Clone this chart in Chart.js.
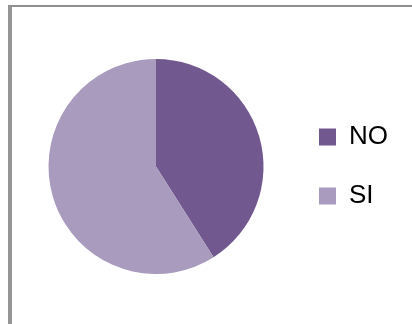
<!DOCTYPE html>
<html>
<head>
<meta charset="utf-8">
<script src="https://cdn.jsdelivr.net/npm/chart.js@4/dist/chart.umd.min.js"></script>
<style>
  html, body { margin: 0; padding: 0; background: #fff; }
  #frame {
    position: absolute; left: 8px; top: 5px; width: 404px; height: 319px;
    border-top: 2px solid #8f8f8f; border-left: 4px solid #959595;
    box-sizing: border-box;
  }
  #wrap { position: absolute; left: 0; top: 0; width: 412px; height: 324px; }
</style>
</head>
<body>
<div id="frame"></div>
<div id="wrap"><canvas id="pie-chart"></canvas></div>
<script>
// respuestas
const labels = ["NO", "SI"];
const values = [41, 59];
const colors = ["#71588F", "#A99BBD"];

const canvas = document.querySelector("#pie-chart");

const chartSettings = {
  type: "pie",
  data: {
    labels: labels,
    datasets: [
      {
        data: values,
        backgroundColor: colors,
        borderWidth: 0,
      },
    ],
  },
  options: {
    responsive: true,
    maintainAspectRatio: false,
    animation: false,
    layout: {
      padding: { left: 26, right: 14, top: 59, bottom: 50 },
    },
    plugins: {
      tooltip: { enabled: false },
      legend: {
        position: "right",
        labels: {
          boxWidth: 17,
          boxHeight: 17,
          padding: 33,
          color: "#000",
          font: { family: "Liberation Sans", size: 26 },
        },
      },
    },
  },
};

const chart1 = new Chart(canvas, chartSettings);
</script>
</body>
</html>
